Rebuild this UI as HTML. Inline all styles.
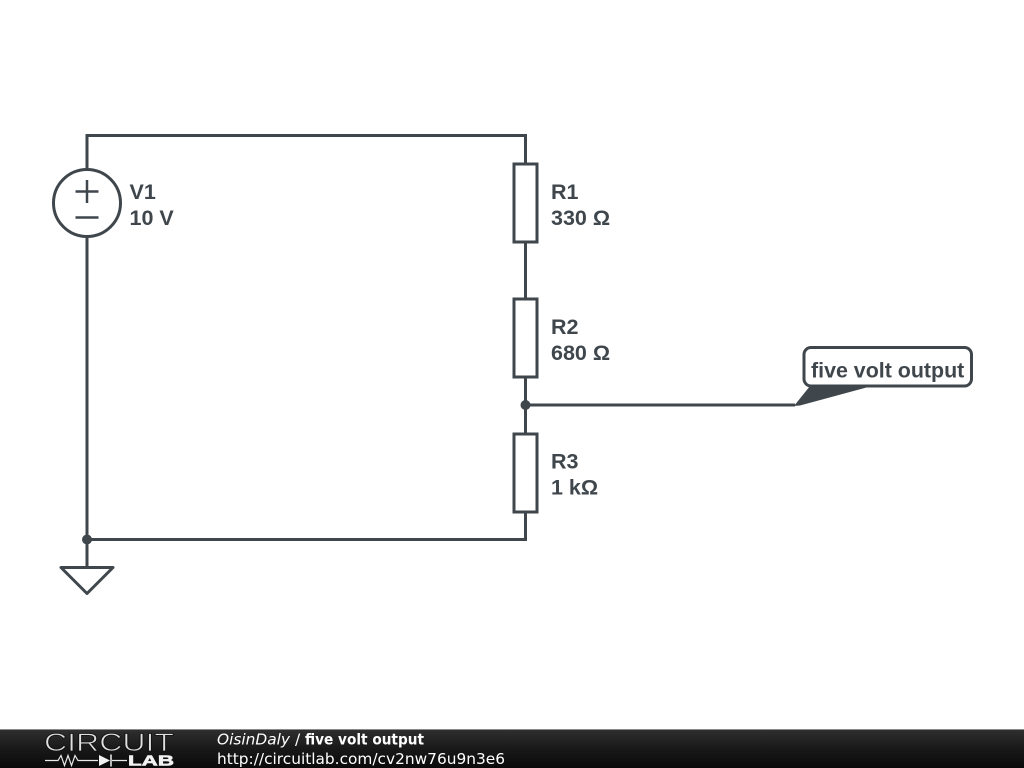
<!DOCTYPE html>
<html><head><meta charset="utf-8"><style>
html,body{margin:0;padding:0;background:#fff;width:1024px;height:768px;overflow:hidden}
svg{display:block}
</style></head><body>
<svg width="1024" height="768" viewBox="0 0 1024 768" xmlns="http://www.w3.org/2000/svg">
<defs><linearGradient id="bar" x1="0" y1="0" x2="0" y2="1"><stop offset="0" stop-color="#303030"/><stop offset="0.5" stop-color="#191919"/><stop offset="1" stop-color="#0a0a0a"/></linearGradient></defs>
<rect width="1024" height="768" fill="#fff"/>
<g fill="none" stroke="#3f474d" stroke-width="3">
<path d="M87 169V135.500H525.500V164M87 237V567M525.500 242V298M525.500 377V433M525.500 512V539.500H87M525.500 405H795"/>
<circle cx="87" cy="203" r="33.500"/>
<path d="M75.500 191.500H98.500M87 180V203M75.500 217.500H98.500" stroke-width="2.500"/>
<rect x="514" y="164" width="23" height="78"/>
<rect x="514" y="299" width="23" height="78"/>
<rect x="514" y="434" width="23" height="78"/>
<path d="M61 567.500H113L87 593.500Z" stroke-linejoin="round"/>
<rect x="804" y="347.500" width="167.500" height="38.500" rx="7"/>
</g>
<circle cx="525.500" cy="405" r="5" fill="#3f474d"/>
<circle cx="87" cy="539.500" r="5" fill="#3f474d"/>
<path d="M794 406L810 386H872L800 405.500Z" fill="#3f474d"/>
<g font-family="'Liberation Sans',sans-serif" font-weight="700" font-size="21.500" fill="#3f474d">
<text x="129.500" y="199">V1</text><text x="129.500" y="225">10 V</text>
<text x="551" y="199">R1</text><text x="551" y="225">330 Ω</text>
<text x="551" y="334">R2</text><text x="551" y="360">680 Ω</text>
<text x="551" y="468.500">R3</text><text x="551" y="494.500">1 kΩ</text>
<text x="811" y="377.500" font-size="21.400">five volt output</text>
</g>
<rect y="729" width="1024" height="39" fill="url(#bar)"/>
<rect y="729" width="1024" height="1" fill="#8a8a8a"/>
<text x="44" y="751" font-family="'Liberation Sans',sans-serif" font-size="25" fill="#e0e0e0" stroke="#111" stroke-width="0.800" textLength="130" lengthAdjust="spacingAndGlyphs">CIRCUIT</text>
<path d="M45 760.500H58L61 755.500L64.500 765.500L68 755.500L71.500 765.500L75 755.500L78 760.500H98M112 760.500H127" fill="none" stroke="#e8e8e8" stroke-width="1.200"/>
<path d="M99 755L110 760.500L99 766Z" fill="#f2f2f2"/><path d="M111 754.500V766.500" stroke="#f2f2f2" stroke-width="1.500"/>
<text x="128" y="765.500" font-family="'Liberation Sans',sans-serif" font-weight="700" font-size="15" fill="#f2f2f2" stroke="#f2f2f2" stroke-width="0.600" textLength="46" lengthAdjust="spacingAndGlyphs">LAB</text>
<g font-family="'DejaVu Sans',sans-serif" font-size="15.400" fill="#fff">
<text x="217" y="744.500" font-style="italic" textLength="73" lengthAdjust="spacingAndGlyphs">OisinDaly</text>
<text x="295" y="744.500">/</text>
<text x="305" y="744.500" font-weight="700" font-size="15.400" textLength="119" lengthAdjust="spacingAndGlyphs">five volt output</text>
<text x="217" y="764" textLength="288" lengthAdjust="spacingAndGlyphs">http://circuitlab.com/cv2nw76u9n3e6</text>
</g>
</svg>
</body></html>
